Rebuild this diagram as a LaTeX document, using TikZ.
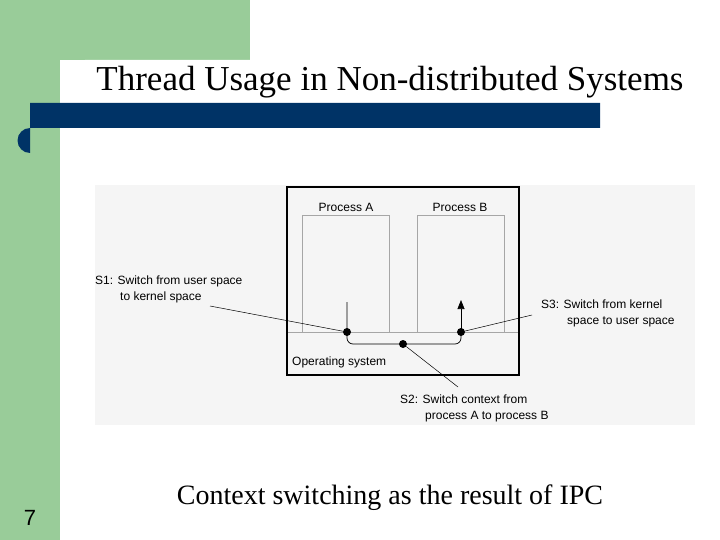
\documentclass[tikz,border=0pt]{standalone}
\usepackage{fontspec}
\setmainfont{Liberation Serif}
\setsansfont{Liberation Sans}
\usetikzlibrary{positioning,arrows.meta}
\definecolor{slidegreen}{HTML}{99CC99}
\definecolor{slideblue}{HTML}{003366}
\begin{document}
\begin{tikzpicture}[
			x=1pt, y=-1pt,
			every node/.style={font=\sffamily\fontsize{12}{16}\selectfont, inner sep=0pt},
			lbl/.style={anchor=west, align=left},
			grayline/.style={draw=black!35, line width=0.7pt},
			dot/.style={circle, fill=black, minimum size=8pt, inner sep=0pt},
			leader/.style={draw=black, line width=0.5pt}
			]
			\useasboundingbox (0,0) rectangle (720,540);
			
			% slide frame
			\fill[slidegreen] (0,0) rectangle (250,60);
			\fill[slidegreen] (0,0) rectangle (60,540);
			\fill[white] (60,85) to[out=90, in=180] (85,60) -- (250,60) -- (250,540) -- (60,540) -- cycle;
			\fill[slideblue] (30,103) -- (600,103) -- (600,128) -- (30,128) arc (270:90:12.5);
			\node (title) at (390,82) [font=\rmfamily\fontsize{35}{40}\selectfont] {Thread Usage in Non-distributed Systems};
			\node (num) at (30,518) [font=\sffamily\fontsize{22}{24}\selectfont] {7};
			\node (cap) at (390,498) [font=\rmfamily\fontsize{28}{32}\selectfont] {Context switching as the result of IPC};
			
			% figure
			\fill[black!4] (95,185) rectangle (695,425);
			\draw[grayline] (302,332) -- (302,215) -- (389,215) -- (389,332);
			\draw[grayline] (417,332) -- (417,215) -- (504,215) -- (504,332);
			\draw[grayline] (287,332) -- (519,332);
			\draw[line width=1.6pt] (287,187) rectangle (519,375);
			
			\node (pa) at (346,207) {Process A};
			\node (pb) at (460,207) {Process B};
			\node (os) at (292,362) [lbl] {Operating system};
			
			\node (d1) at (347,332) [dot] {};
			\node (d3) at (461,332) [dot] {};
			\node (d2) at (403,344) [dot] {};
			
			\draw[line width=0.7pt] (347,302) -- (d1.center) -- (347,338) to[out=270, in=180] (353,344) -- (455,344) to[out=0, in=270] (461,338) -- (d3.center);
			\draw[line width=0.7pt, -{Triangle[length=9pt, width=7pt]}] (d3.center) -- (461,300);
			
			\node (s1) at (95,289) [lbl] {S1: Switch from user space\\\hspace{25pt}to kernel space};
			\node (s3) at (541,313) [lbl] {S3: Switch from kernel\\\hspace{26pt}space to user space};
			\node (s2) at (400,408) [lbl] {S2: Switch context from\\\hspace{25pt}process A to process B};
			
			\coordinate (e1) at (210,306);
			\coordinate (e3) at (532,315);
			\coordinate (e2) at (458,387);
			\draw[leader] (e1) -- (d1);
			\draw[leader] (e3) -- (d3);
			\draw[leader] (e2) -- (d2);
			\end{tikzpicture}
\end{document}
